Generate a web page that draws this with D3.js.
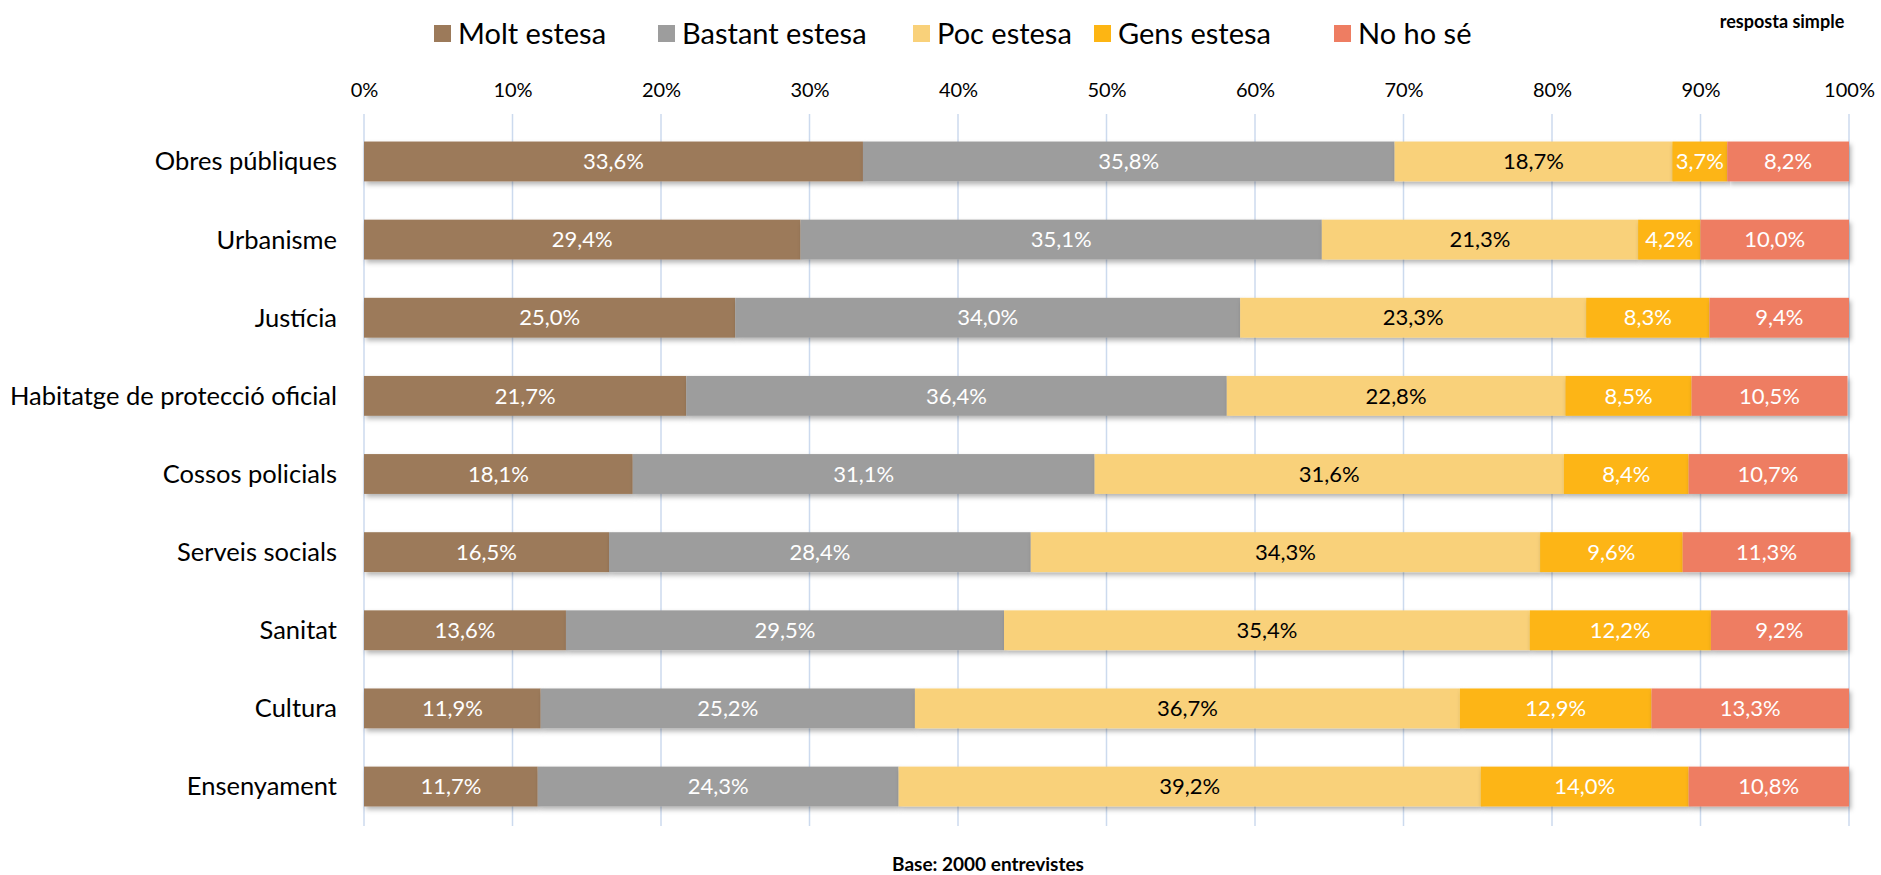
<!DOCTYPE html>
<html>
<head>
<meta charset="utf-8">
<script src="https://cdn.jsdelivr.net/npm/d3@7"></script>
<style>
  body { margin: 0; background: #fff; }
  text { font-family: Lato, "Open Sans", sans-serif; }
</style>
</head>
<body>
<div id="chart"></div>
<script>
// data
var categories = ["Obres públiques", "Urbanisme", "Justícia", "Habitatge de protecció oficial",
  "Cossos policials", "Serveis socials", "Sanitat", "Cultura", "Ensenyament"];
var seriesNames = ["Molt estesa", "Bastant estesa", "Poc estesa", "Gens estesa", "No ho sé"];
var moltEstesa    = [33.6, 29.4, 25.0, 21.7, 18.1, 16.5, 13.6, 11.9, 11.7];
var bastantEstesa = [35.8, 35.1, 34.0, 36.4, 31.1, 28.4, 29.5, 25.2, 24.3];
var pocEstesa     = [18.7, 21.3, 23.3, 22.8, 31.6, 34.3, 35.4, 36.7, 39.2];
var gensEstesa    = [3.7, 4.2, 8.3, 8.5, 8.4, 9.6, 12.2, 12.9, 14.0];
var noHoSe        = [8.2, 10.0, 9.4, 10.5, 10.7, 11.3, 9.2, 13.3, 10.8];
var tickValues = [0, 10, 20, 30, 40, 50, 60, 70, 80, 90, 100];

var colors = ["#9C7A5A", "#9D9D9D", "#F9D17A", "#FDB513", "#EE7D62"];
var labelColors = ["#fff", "#fff", "#000", "#fff", "#fff"];

var width = 1881, height = 875;

// build the table for the stack
var rows = categories.map(function(c, i) {
  var r = {cat: c};
  r[seriesNames[0]] = moltEstesa[i];
  r[seriesNames[1]] = bastantEstesa[i];
  r[seriesNames[2]] = pocEstesa[i];
  r[seriesNames[3]] = gensEstesa[i];
  r[seriesNames[4]] = noHoSe[i];
  return r;
});
var stacked = d3.stack().keys(seriesNames)(rows);

var svg = d3.select("#chart").append("svg")
    .attr("width", width)
    .attr("height", height);

// soft shadow under the bars
svg.append("defs").append("filter")
    .attr("id", "shadow")
    .attr("x", "-5%").attr("y", "-20%")
    .attr("width", "110%").attr("height", "160%")
  .append("feDropShadow")
    .attr("dx", 2).attr("dy", 3)
    .attr("stdDeviation", 2.5)
    .attr("flood-color", "#000")
    .attr("flood-opacity", 0.3);

var x = d3.scaleLinear().domain([0, 100]).range([364, 1849]);
var y = d3.scaleBand().domain(categories).range([122, 826]).paddingInner(0.49).paddingOuter(0.25);

// gridlines
svg.append("g")
    .selectAll("line")
    .data(tickValues)
    .enter().append("line")
    .attr("x1", function(d) { return x(d); })
    .attr("x2", function(d) { return x(d); })
    .attr("y1", 114)
    .attr("y2", 826)
    .attr("stroke", "#CCDAEE")
    .attr("stroke-width", 1.5);

// top axis labels
var xAxis = svg.append("g")
    .attr("transform", "translate(0,100)")
    .call(d3.axisTop(x).tickValues(tickValues).tickSize(0).tickFormat(function(d) { return d + "%"; }));
xAxis.select(".domain").remove();
xAxis.selectAll("text")
    .attr("font-size", 20)
    .attr("font-family", "Lato, sans-serif")
    .attr("fill", "#000");

// category labels
svg.append("g")
    .selectAll("text")
    .data(categories)
    .enter().append("text")
    .attr("x", 337)
    .attr("y", function(d) { return y(d) + y.bandwidth() / 2; })
    .attr("dy", "0.35em")
    .attr("text-anchor", "end")
    .attr("font-size", 25.5)
    .text(function(d) { return d; });

// bars
var layers = svg.append("g")
    .selectAll("g")
    .data(stacked)
    .enter().append("g");

layers.selectAll("rect")
    .data(function(d) { return d; })
    .enter().append("rect")
    .attr("x", function(d) { return x(d[0]); })
    .attr("y", function(d) { return y(d.data.cat); })
    .attr("width", function(d) { return x(d[1]) - x(d[0]); })
    .attr("height", y.bandwidth())
    .attr("fill", function(d, i, nodes) { return colors[seriesNames.indexOf(d3.select(nodes[i].parentNode).datum().key)]; })
    .attr("filter", "url(#shadow)");

// data labels
layers.each(function(layer, k) {
  d3.select(this).selectAll("text")
    .data(layer)
    .enter().append("text")
    .attr("x", function(d) { return (x(d[0]) + x(d[1])) / 2; })
    .attr("y", function(d) { return y(d.data.cat) + y.bandwidth() / 2; })
    .attr("dy", "0.35em")
    .attr("text-anchor", "middle")
    .attr("font-size", 22)
    .attr("fill", labelColors[k])
    .text(function(d) { return d3.format(".1f")(d[1] - d[0]).replace(".", ",") + "%"; });
});

// legend
var legendX = [434, 658, 913, 1094, 1334];
var legend = svg.append("g")
    .selectAll("g")
    .data(seriesNames)
    .enter().append("g")
    .attr("transform", function(d, i) { return "translate(" + legendX[i] + ",34)"; });
legend.append("rect")
    .attr("x", 0).attr("y", -9)
    .attr("width", 17).attr("height", 17)
    .attr("fill", function(d, i) { return colors[i]; });
legend.append("text")
    .attr("x", 24)
    .attr("dy", "0.35em")
    .attr("font-size", 29)
    .text(function(d) { return d; });

svg.append("text")
    .attr("x", 1782).attr("y", 22)
    .attr("dy", "0.35em")
    .attr("text-anchor", "middle")
    .attr("font-size", 18)
    .attr("font-weight", "bold")
    .text("resposta simple");

svg.append("text")
    .attr("x", 988).attr("y", 864)
    .attr("dy", "0.35em")
    .attr("text-anchor", "middle")
    .attr("font-size", 19)
    .attr("font-weight", "bold")
    .text("Base: 2000 entrevistes");
</script>
</body>
</html>
